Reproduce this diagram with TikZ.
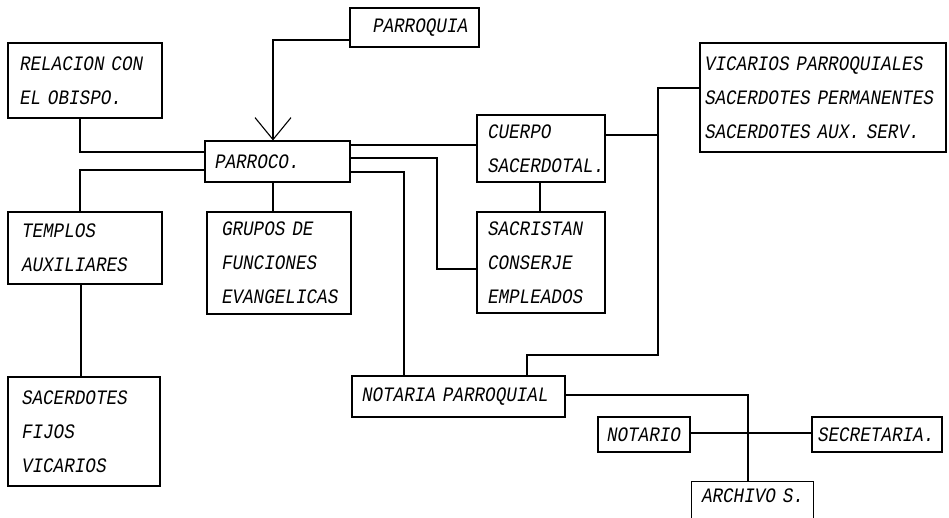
\documentclass[tikz,border=0pt]{standalone}
\usepackage{fontspec}
\newfontfamily\boxfont{Liberation Mono}[FakeStretch=0.86]
\usetikzlibrary{arrows.meta}
\newcommand\tline[1]{\mbox{#1}}
\begin{document}
\begin{tikzpicture}[x=1pt,y=-1pt,
  line width=1.1pt,
  box/.style={draw, rectangle, align=left, inner ysep=0pt,
    font=\boxfont\itshape\fontsize{20.5}{34}\selectfont},
  geom/.style n args={4}{minimum width=#1pt, minimum height=#2pt, inner xsep=#3pt, text width=#4pt},
  conn/.style={line width=1.1pt},
  vhead/.style={-{Straight Barb[length=22pt,width=36pt,line width=1.1pt]}}]
\useasboundingbox (0,0) rectangle (949,517);

\node[box, geom={129}{39}{23}{83}]   (parroquia)  at (414.5,27.5) {\tline{PARROQUIA}};
\node[box, geom={154}{75}{12}{130}]  (relacion)   at (85,80.5)    {\tline{RELACION CON}\\\tline{EL OBISPO.}};
\node[box, geom={145}{41}{10}{125}]  (parroco)    at (277.5,161.5) {\tline{PARROCO.}};
\node[box, geom={154}{72}{14}{126}]  (templos)    at (85,248)     {\tline{TEMPLOS}\\\tline{AUXILIARES}};
\node[box, geom={144}{102}{15}{114}] (grupos)     at (279,263)    {\tline{GRUPOS DE}\\\tline{FUNCIONES}\\\tline{EVANGELICAS}};
\node[box, geom={152}{109}{14}{124}] (sacfijos)   at (84,431.5)   {\tline{SACERDOTES}\\\tline{FIJOS}\\\tline{VICARIOS}};
\node[box, geom={128}{67}{11}{106}]  (cuerpo)     at (541,148.5)  {\tline{CUERPO}\\\tline{SACERDOTAL.}};
\node[box, geom={128}{101}{11}{106}] (sacristan)  at (541,262.5)  {\tline{SACRISTAN}\\\tline{CONSERJE}\\\tline{EMPLEADOS}};
\node[box, geom={246}{109}{5}{236}]  (vicarios)   at (823,97.5)   {\tline{VICARIOS PARROQUIALES}\\\tline{SACERDOTES PERMANENTES}\\\tline{SACERDOTES AUX. SERV.}};
\node[box, geom={213}{41}{10}{193}]  (notaria)    at (458.5,396.5) {\tline{NOTARIA PARROQUIAL}};
\node[box, geom={92}{35}{9}{74}]     (notario)    at (644,434.5)  {\tline{NOTARIO}};
\node[box, geom={130}{35}{6}{118}]   (secretaria) at (877,434.5)  {\tline{SECRETARIA.}};
\node[box, draw=none, geom={121}{28}{10}{101}] (archivo) at (752.5,496) {\tline{ARCHIVO S.}};
\draw ([yshift=-40pt]archivo.south west) -- (archivo.north west) -- (archivo.north east) -- ([yshift=-40pt]archivo.south east);

% connectors
\draw[conn, vhead] (parroquia.west |- 0,40) -| (parroco.north -| 273,0);
\draw[conn] (relacion.south -| 80,0) |- (parroco.west |- 0,152);
\draw[conn] (parroco.west |- 0,170) -| (templos.north -| 80,0);
\draw[conn] (parroco.south -| 273,0) -- (grupos.north -| 273,0);
\draw[conn] (templos.south -| 81,0) -- (sacfijos.north -| 81,0);
\draw[conn] (parroco.east |- 0,145) -- (cuerpo.west |- 0,145);
\draw[conn] (parroco.east |- 0,158) -| (437,269) -- (sacristan.west |- 0,269);
\draw[conn] (parroco.east |- 0,172) -| (notaria.north -| 404,0);
\draw[conn] (cuerpo.south -| 540,0) -- (sacristan.north -| 540,0);
\draw[conn] (cuerpo.east |- 0,135) -- (658,135);
\draw[conn] (vicarios.west |- 0,88) -| (658,355) -| (notaria.north -| 527,0);
\draw[conn] (notaria.east |- 0,395) -| (archivo.north -| 748,0);
\draw[conn] (notario.east |- 0,433) -- (secretaria.west |- 0,433);
\end{tikzpicture}
\end{document}
